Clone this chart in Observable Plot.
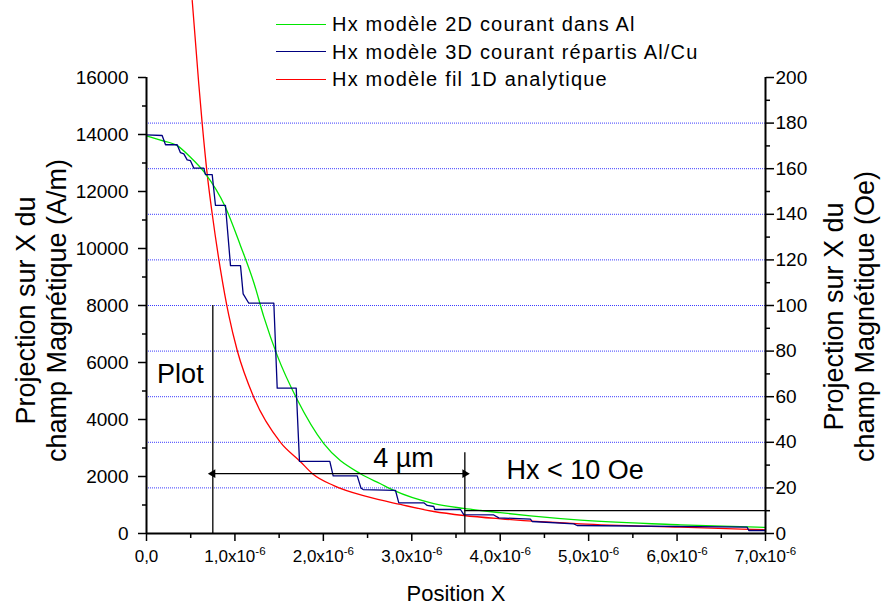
<!DOCTYPE html>
<html><head><meta charset="utf-8">
<script src="https://cdn.jsdelivr.net/npm/d3@7"></script>
<script src="https://cdn.jsdelivr.net/npm/@observablehq/plot@0.6"></script>
<style>
body{margin:0;background:#fff;font-family:"Liberation Sans",Arial,sans-serif;}
#wrap{position:relative;width:883px;height:607px;overflow:hidden;}
#legend{position:absolute;left:276px;top:0;}
.item{position:absolute;left:0;white-space:nowrap;font-size:20px;letter-spacing:1.2px;line-height:24px;display:flex;align-items:center;color:#000;}
.sw{width:50px;height:0;border-top:1.6px solid;margin-right:6px;}
</style></head><body><div id="wrap"></div>
<script>
// ---- data (x in µm, field in A/m) ----
const greenX = [0, 0.158, 0.347, 0.498, 0.648, 0.893, 1.063, 1.214, 1.327, 1.478, 1.704, 2.005, 2.42, 2.646, 2.797, 3.249, 3.588, 3.777, 4.0, 4.342, 4.908, 6.039, 7.0];
const greenY = [13950, 13800, 13610, 13200, 12700, 11450, 10100, 8800, 7600, 6250, 4700, 3150, 2095, 1745, 1510, 1050, 880, 807, 730, 620, 470, 305, 215];

const blueX = [0, 0.177, 0.215, 0.347, 0.384, 0.422, 0.46, 0.497, 0.535, 0.648, 0.667, 0.743, 0.78, 0.893, 0.95, 1.063, 1.093, 1.157, 1.44, 1.478, 1.693, 1.73, 2.073, 2.111, 2.383, 2.425, 2.45, 2.816, 2.853, 3.136, 3.174, 3.249, 3.26, 3.551, 3.588, 3.927, 3.984, 4.342, 4.361, 4.832, 4.87, 6.793, 6.811, 7.0];
const blueY = [13990, 13965, 13640, 13640, 13360, 13320, 13110, 13080, 12820, 12820, 12590, 12590, 11510, 11510, 9400, 9400, 8410, 8080, 8080, 5100, 5100, 2530, 2530, 2020, 2020, 1600, 1540, 1510, 1077, 1077, 985, 947, 842, 842, 660, 650, 550, 505, 421, 340, 281, 222, 105, 105];

const redX = [0.517, 0.591, 0.630, 0.686, 0.743, 0.837, 0.931, 1.026, 1.213, 1.515, 1.741, 1.877, 2.118, 2.496, 2.872, 3.249, 3.588, 4.003, 4.908, 6.039, 7.0];
const redY = [18700, 15780, 14380, 12620, 11220, 9250, 7650, 6420, 4780, 3200, 2520, 2095, 1680, 1290, 1018, 772, 632, 515, 340, 222, 130];

const seriesNames = ["Hx modèle 2D courant dans Al", "Hx modèle 3D courant répartis Al/Cu", "Hx modèle fil 1D analytique"];
const seriesColors = ["#00e600", "#000080", "#ff0000"];

const xTicks = [0, 1, 2, 3, 4, 5, 6, 7];
const xMinor = [0.5, 1.5, 2.5, 3.5, 4.5, 5.5, 6.5];
const yTicksLeft = [0, 2000, 4000, 6000, 8000, 10000, 12000, 14000, 16000];
const yMinorLeft = [1000, 3000, 5000, 7000, 9000, 11000, 13000, 15000];
const oeTicks = [0, 20, 40, 60, 80, 100, 120, 140, 160, 180, 200];
const oeMinor = [10, 30, 50, 70, 90, 110, 130, 150, 170, 190];
const oeGrid = [20, 40, 60, 80, 100, 120, 140, 160, 180];
const amPerOe = 80;

const leftTitle = "Projection sur X du\nchamp Magnétique (A/m)";
const rightTitle = "Projection sur X du\nchamp Magnétique (Oe)";
const xTitle = "Position X";

// annotations
const plotEdgeX = 0.75, limitX = 3.6, plotLineTop = 8000, limitLineTop = 2830, arrowY = 2100, limitOe = 10;
const labelPlot = {x: 0.12, y: 5580, text: "Plot"};
const labelDist = {x: 2.906, y: 2630, text: "4 µm"};
const labelLimit = {x: 4.07, y: 2210, text: "Hx < 10 Oe"};

// ---- build ----
const FONT = '"Liberation Sans", Arial, sans-serif';
const green = greenX.map((x, i) => ({x, y: greenY[i]}));
const blue = blueX.map((x, i) => ({x, y: blueY[i]}));
const red = redX.map((x, i) => ({x, y: redY[i]}));
const xfmt = d => d === 0 ? "0,0" : d.toFixed(1).replace(".", ",") + "x10^-6";
const none = () => "";

const chart = Plot.plot({
  width: 883, height: 607,
  marginTop: 77, marginRight: 118, marginBottom: 74, marginLeft: 146,
  style: {fontFamily: FONT, fontSize: "19px", color: "black", background: "white", overflow: "visible"},
  x: {domain: [0, 7]},
  y: {domain: [0, 16000]},
  marks: [
    Plot.ruleY(oeGrid.map(d => d * amPerOe), {x1: 0, x2: 7, stroke: "#1a1aff", strokeWidth: 1, strokeDasharray: "1,1", strokeOpacity: 0.85}),
    Plot.line(red, {x: "x", y: "y", stroke: seriesColors[2], strokeWidth: 1.3, curve: "monotone-x"}),
    Plot.line(green, {x: "x", y: "y", stroke: seriesColors[0], strokeWidth: 1.3, curve: "monotone-x"}),
    Plot.line(blue, {x: "x", y: "y", stroke: seriesColors[1], strokeWidth: 1.3}),
    // annotation lines
    Plot.ruleX([{x: plotEdgeX, y2: plotLineTop}, {x: limitX, y2: limitLineTop}], {x: "x", y1: 0, y2: "y2", stroke: "black", strokeWidth: 1.3}),
    Plot.ruleY([limitOe * amPerOe], {x1: limitX, x2: 7, stroke: "black", strokeWidth: 1.3}),
    Plot.ruleY([arrowY], {x1: plotEdgeX, x2: limitX, stroke: "black", strokeWidth: 1.3}),
    Plot.dot([{x: plotEdgeX, r: -90}, {x: limitX, r: 90}], {x: "x", y: arrowY, rotate: "r", symbol: "triangle", r: 3.2, fill: "black", stroke: null}),
    Plot.text([labelPlot, labelLimit], {x: "x", y: "y", text: "text", textAnchor: "start", fontSize: 27}),
    Plot.text([labelDist], {x: "x", y: "y", text: "text", textAnchor: "middle", fontSize: 27}),
    // axes: ticks
    Plot.axisY({ticks: yTicksLeft, anchor: "left", tickSize: 8, tickFormat: none, label: null, strokeWidth: 1.5}),
    Plot.axisY({ticks: yMinorLeft, anchor: "left", tickSize: 4, tickFormat: none, label: null, strokeWidth: 1.5}),
    Plot.axisY({ticks: oeTicks.map(d => d * amPerOe), anchor: "right", tickSize: 8, tickFormat: none, label: null, strokeWidth: 1.5}),
    Plot.axisY({ticks: oeMinor.map(d => d * amPerOe), anchor: "right", tickSize: 4, tickFormat: none, label: null, strokeWidth: 1.5}),
    Plot.axisX({ticks: xTicks, anchor: "bottom", tickSize: 8, tickFormat: none, label: null, strokeWidth: 1.5}),
    Plot.axisX({ticks: xMinor, anchor: "bottom", tickSize: 5, tickFormat: none, label: null, strokeWidth: 1.5}),
    // axes: tick labels
    Plot.text(yTicksLeft, {x: 0, y: d => d, text: d => String(d), textAnchor: "end", lineAnchor: "middle", dx: -18, fontSize: 19}),
    Plot.text(oeTicks, {x: 7, y: d => d * amPerOe, text: d => String(d), textAnchor: "start", lineAnchor: "middle", dx: 10, fontSize: 19}),
    Plot.text(xTicks, {x: d => d, y: 0, text: xfmt, textAnchor: "middle", lineAnchor: "top", dy: 16, fontSize: 17}),
    Plot.ruleX([0, 7], {stroke: "black", strokeWidth: 2}),
    Plot.ruleY([0], {stroke: "black", strokeWidth: 2}),
    // titles
    Plot.text([leftTitle], {frameAnchor: "left", dx: -106, dy: 5, rotate: -90, textAnchor: "middle", lineAnchor: "middle", fontSize: 27, lineHeight: 1.15}),
    Plot.text([rightTitle], {frameAnchor: "right", dx: 83, dy: 11, rotate: -90, textAnchor: "middle", lineAnchor: "middle", fontSize: 27, lineHeight: 1.15}),
    Plot.text([xTitle], {frameAnchor: "bottom", dy: 60, textAnchor: "middle", lineAnchor: "middle", fontSize: 22})
  ]
});

const ns = "http://www.w3.org/2000/svg";
chart.querySelectorAll("text").forEach(t => {
  const s = t.textContent;
  if (s.includes("^")) {
    const [base, sup] = s.split("^");
    t.textContent = "";
    const a = document.createElementNS(ns, "tspan"); a.textContent = base; t.appendChild(a);
    const b = document.createElementNS(ns, "tspan"); b.textContent = sup;
    b.setAttribute("dy", "-0.6em"); b.setAttribute("font-size", "0.68em"); t.appendChild(b);
  }
});

const wrap = document.getElementById("wrap");
wrap.appendChild(chart);
const legend = document.createElement("div");
legend.id = "legend";
seriesNames.forEach((name, i) => {
  const it = document.createElement("div");
  it.className = "item";
  it.style.top = (12 + i * 27.5) + "px";
  const sw = document.createElement("span"); sw.className = "sw"; sw.style.borderColor = seriesColors[i];
  const tx = document.createElement("span"); tx.textContent = name;
  it.appendChild(sw); it.appendChild(tx);
  legend.appendChild(it);
});
wrap.appendChild(legend);
</script></body></html>
